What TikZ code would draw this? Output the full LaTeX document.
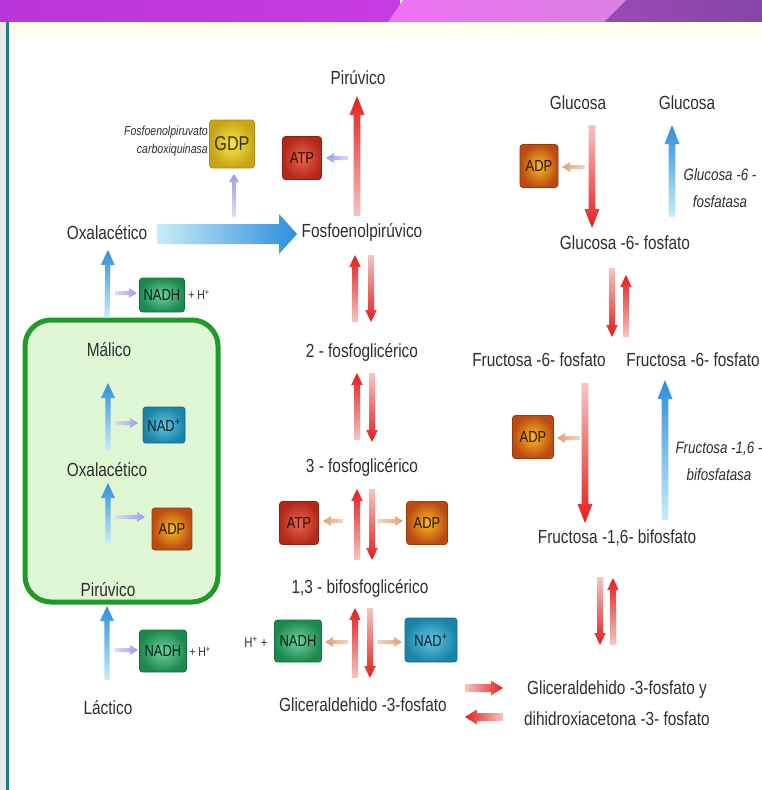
\documentclass[tikz,border=0pt]{standalone}
\usepackage{fontspec}
\setmainfont{Liberation Sans}[FakeStretch=0.81]
\usetikzlibrary{calc}

\newcommand\fsz[2]{\fontsize{#1}{#2}\selectfont}

% text and frame colours
\definecolor{txt}{HTML}{2E2E2E}
\definecolor{banA}{HTML}{B836D8}
\definecolor{banB}{HTML}{C83CE2}
\definecolor{banC}{HTML}{EE72F2}
\definecolor{banD}{HTML}{DA82E2}
\definecolor{banE}{HTML}{9A4AB4}
\definecolor{banF}{HTML}{8646A6}
\definecolor{rulecol}{HTML}{1C7E8A}
\definecolor{stripgray}{HTML}{E6ECEC}
\definecolor{mitoD}{HTML}{1F9A29}
\definecolor{mitoL}{HTML}{DEF6D4}
% metabolite boxes
\definecolor{atpL}{HTML}{EA6650}\definecolor{atpD}{HTML}{B42818}
\definecolor{adpL}{HTML}{F4BC22}\definecolor{adpD}{HTML}{BC4A12}
\definecolor{gdpL}{HTML}{F6E64C}\definecolor{gdpD}{HTML}{C8A416}
\definecolor{nadhL}{HTML}{72D0A0}\definecolor{nadhD}{HTML}{1C8A4E}
\definecolor{nadL}{HTML}{64C6E0}\definecolor{nadD}{HTML}{1A84A8}
% arrow colours (tail / head)
\definecolor{redL}{HTML}{F6C4C2}\definecolor{redD}{HTML}{E41E1E}
\definecolor{bluL}{HTML}{C8ECF8}\definecolor{bluD}{HTML}{2E8EDC}
\definecolor{lavL}{HTML}{DCDCF6}\definecolor{lavD}{HTML}{9C9CE6}
\definecolor{orgL}{HTML}{F2D8C4}\definecolor{orgD}{HTML}{E0A072}

% geometry of the shaded block arrows
\pgfkeys{/fa/.cd,
  shaft/.store in=\fashaft, head/.store in=\fahead,
  len/.store in=\falen, dir/.store in=\fadir,
  up/.style={dir=0}, down/.style={dir=180},
  left/.style={dir=90}, right/.style={dir=-90},
  long/.style={shaft=3.3pt, head=7.5pt, len=19pt},
  pair/.style={shaft=3pt, head=5.8pt, len=12pt},
  flat/.style={shaft=4pt, head=7.5pt, len=12pt},
  blue/.style={shaft=2.6pt, head=7pt, len=15pt},
  side/.style={shaft=2pt, head=5pt, len=8pt},
  wide/.style={shaft=10pt, head=20pt, len=18pt}}

% \farrow{size,direction}{(from)}{(to)}{tail colour}{head colour}
\newcommand\farrow[5]{%
  \pgfkeys{/fa/.cd,#1}%
  \path #2 coordinate (fa-s) #3 coordinate (fa-e);
  \path ($(fa-e)!\falen!(fa-s)$) coordinate (fa-h);
  \shade[bottom color=#4, top color=#5, shading angle=\fadir]
    ($(fa-s)!\fashaft!90:(fa-e)$) -- ($(fa-h)!\fashaft!90:(fa-e)$)
    -- ($(fa-h)!\fahead!90:(fa-e)$) -- (fa-e)
    -- ($(fa-h)!\fahead!-90:(fa-e)$) -- ($(fa-h)!\fashaft!-90:(fa-e)$)
    -- ($(fa-s)!\fashaft!-90:(fa-e)$) -- cycle;
}

\begin{document}
\begin{tikzpicture}[x=1pt,y=-1pt,
  lbl/.style={font=\fsz{19}{22}, text=txt, inner sep=1pt},
  enz/.style={font=\itshape\fsz{16.5}{27}, text=txt, align=center, inner sep=0pt},
  enzs/.style={font=\itshape\fsz{13}{18}, text=txt, align=right, inner sep=0pt},
  small/.style={font=\fsz{13}{13}, text=txt, inner sep=0pt},
  chem/.style={rounded corners=3pt, line width=0.8pt, inner sep=0pt,
    minimum width=39pt, minimum height=43pt, font=\fsz{16}{16}},
  atpbox/.style={chem, draw=atpD!80!black, inner color=atpL, outer color=atpD, text=atpD!25!black},
  adpbox/.style={chem, draw=adpD!80!black, inner color=adpL, outer color=adpD, text=adpD!25!black},
  gdpbox/.style={chem, draw=gdpD!85!black, inner color=gdpL, outer color=gdpD, text=gdpD!30!black},
  nadhbox/.style={chem, draw=nadhD!80!black, inner color=nadhL, outer color=nadhD, text=nadhD!25!black},
  nadbox/.style={chem, draw=nadD!80!black, inner color=nadL, outer color=nadD, text=nadD!25!black},
  mito/.style={draw=mitoD, fill=mitoL, line width=5pt, rounded corners=26pt}]

\useasboundingbox (0,0) rectangle (762,790);
\clip (0,0) rectangle (762,790);
\fill[white] (0,0) rectangle (762,790);

% title band
\shade[left color=banA, right color=banB] (0,0) rectangle (400,22);
\shade[left color=banC, right color=banD] (388,22) -- (403,0) -- (626,0) -- (604,22) -- cycle;
\shade[left color=banE, right color=banF] (604,22) -- (626,0) -- (762,0) -- (762,22) -- cycle;
\shade[top color=yellow!10!white, bottom color=white] (0,22) rectangle (762,38);

% left margin rule
\fill[stripgray] (0,22) rectangle (6,790);
\fill[rulecol] (6,22) rectangle (8.5,790);

% mitochondrial compartment
\node[mito, minimum width=193pt, minimum height=282pt] (mito) at (121.5,461) {};

% metabolites, central column
\node[lbl] (pir) at (358,78) {Pirúvico};
\node[lbl] (pep) at (362,232) {Fosfoenolpirúvico};
\node[lbl] (pg2) at (362,352) {2 - fosfoglicérico};
\node[lbl] (pg3) at (362,467) {3 - fosfoglicérico};
\node[lbl] (bpg) at (360,588) {1,3 - bifosfoglicérico};
\node[lbl] (gap) at (363,705) {Gliceraldehido -3-fosfato};
\node[lbl, align=center, font=\fsz{19}{31}] (gdh) at (617,703)
  {Gliceraldehido -3-fosfato y\\dihidroxiacetona -3- fosfato};

% metabolites, right column
\node[lbl] (glcL) at (578,103) {Glucosa};
\node[lbl] (glcR) at (687,103) {Glucosa};
\node[lbl] (g6p) at (625,243) {Glucosa -6- fosfato};
\node[lbl] (f6pL) at (539,360) {Fructosa -6- fosfato};
\node[lbl, anchor=east] (f6pR) at (761,360) {Fructosa -6- fosfato};
\node[lbl] (f16) at (617,538) {Fructosa -1,6- bifosfato};
\node[enz] (g6pase) at (720,188) {Glucosa -6 -\\fosfatasa};
\node[enz] (f16pase) at (719,461) {Fructosa -1,6 -\\bifosfatasa};

% metabolites, left column
\node[lbl] (oxa1) at (107,233) {Oxalacético};
\node[lbl] (mal) at (109,350) {Málico};
\node[lbl] (oxa2) at (107,470) {Oxalacético};
\node[lbl] (pir2) at (108,590) {Pirúvico};
\node[lbl] (lac) at (108,708) {Láctico};
\node[enzs, anchor=east] (pepck) at (208,141) {Fosfoenolpiruvato\\carboxiquinasa};

% cofactor boxes
\node[gdpbox, minimum width=45pt, minimum height=48pt, font=\fsz{20}{20}] (gdp) at (232,144) {GDP};
\node[atpbox] (atp1) at (302,158) {ATP};
\node[atpbox] (atp2) at (299,523) {ATP};
\node[adpbox, minimum width=41pt] (adp2) at (427,523) {ADP};
\node[nadhbox, minimum width=47pt, minimum height=42pt] (nadh2) at (298,641) {NADH};
\node[nadbox, minimum width=52pt, minimum height=44pt] (nad2) at (431,640) {NAD\textsuperscript{+}};
\node[small, font=\fsz{14}{14}] (hp2) at (256,642) {H\textsuperscript{+} +};
\node[adpbox, minimum width=38pt] (adp3) at (539,166) {ADP};
\node[adpbox, minimum width=41pt] (adp4) at (533,437) {ADP};
\node[nadhbox, minimum width=45pt, minimum height=34pt] (nadh1) at (162,295) {NADH};
\node[small] (hp1) at (199,295) {+ H\textsuperscript{+}};
\node[nadbox, minimum width=42pt, minimum height=36pt] (nad1) at (164,425) {NAD\textsuperscript{+}};
\node[adpbox, minimum width=40pt, minimum height=42pt] (adp1) at (172,529) {ADP};
\node[nadhbox, minimum width=47pt, minimum height=42pt] (nadh3) at (163,651) {NADH};
\node[small] (hp3) at (200,652) {+ H\textsuperscript{+}};

% glycolytic / gluconeogenic steps, central column
\farrow{long,up}{([shift={(-5,-16)}]pep.center)}{([shift={(-1,18)}]pir.center)}{redL}{redD}
\farrow{pair,up}{([shift={(-7,-30)}]pg2.center)}{([shift={(-7,23)}]pep.center)}{redL}{redD}
\farrow{pair,down}{([shift={(9,23)}]pep.center)}{([shift={(9,-30)}]pg2.center)}{redL}{redD}
\farrow{pair,up}{([shift={(-5,-27)}]pg3.center)}{([shift={(-5,21)}]pg2.center)}{redL}{redD}
\farrow{pair,down}{([shift={(10,21)}]pg2.center)}{([shift={(10,-25)}]pg3.center)}{redL}{redD}
\farrow{pair,up}{([shift={(-3,-28)}]bpg.center)}{([shift={(-5,22)}]pg3.center)}{redL}{redD}
\farrow{pair,down}{([shift={(10,22)}]pg3.center)}{([shift={(12,-28)}]bpg.center)}{redL}{redD}
\farrow{pair,up}{([shift={(-8,-27)}]gap.center)}{([shift={(-5,20)}]bpg.center)}{redL}{redD}
\farrow{pair,down}{([shift={(10,20)}]bpg.center)}{([shift={(7,-27)}]gap.center)}{redL}{redD}
\farrow{flat,right}{([shift={(102,-17)}]gap.center)}{([shift={(-114,-15)}]gdh.center)}{redL}{redD}
\farrow{flat,left}{([shift={(-114,14)}]gdh.center)}{([shift={(102,12)}]gap.center)}{redL}{redD}

% cofactor release, central column
\farrow{side,left}{([shift={(44,-2)}]atp2.center)}{([shift={(24,-2)}]atp2.center)}{orgL}{orgD}
\farrow{side,right}{([shift={(-50,-2)}]adp2.center)}{([shift={(-24,-2)}]adp2.center)}{orgL}{orgD}
\farrow{side,left}{([shift={(50,1)}]nadh2.center)}{([shift={(27,1)}]nadh2.center)}{orgL}{orgD}
\farrow{side,right}{([shift={(-54,2)}]nad2.center)}{([shift={(-29,2)}]nad2.center)}{orgL}{orgD}
\farrow{side,left}{([shift={(46,0)}]atp1.center)}{([shift={(24,0)}]atp1.center)}{lavL}{lavD}
\farrow{side,up}{([shift={(2,73)}]gdp.center)}{([shift={(2,30)}]gdp.center)}{lavL}{lavD}

% right column
\farrow{long,down}{([shift={(14,22)}]glcL.center)}{([shift={(-33,-15)}]g6p.center)}{redL}{redD}
\farrow{side,left}{([shift={(46,1)}]adp3.center)}{([shift={(23,1)}]adp3.center)}{orgL}{orgD}
\farrow{long,up}{([shift={(47,-26)}]g6p.center)}{([shift={(-15,22)}]glcR.center)}{bluL}{bluD}
\farrow{pair,down}{([shift={(-13,25)}]g6p.center)}{([shift={(73,-23)}]f6pL.center)}{redL}{redD}
\farrow{pair,up}{([shift={(87,-23)}]f6pL.center)}{([shift={(1,32)}]g6p.center)}{redL}{redD}
\farrow{long,down}{([shift={(46,23)}]f6pL.center)}{([shift={(-32,-15)}]f16.center)}{redL}{redD}
\farrow{side,left}{([shift={(47,1)}]adp4.center)}{([shift={(24,1)}]adp4.center)}{orgL}{orgD}
\farrow{long,up}{([shift={(48,-18)}]f16.center)}{([shift={(126,20)}]f6pL.center)}{bluL}{bluD}
\farrow{pair,down}{([shift={(-17,39)}]f16.center)}{([shift={(-17,-58)}]gdh.center)}{redL}{redD}
\farrow{pair,up}{([shift={(-4,-58)}]gdh.center)}{([shift={(-4,40)}]f16.center)}{redL}{redD}

% left column
\farrow{wide,right}{([shift={(50,1)}]oxa1.center)}{([shift={(-65,2)}]pep.center)}{bluL}{bluD}
\farrow{blue,up}{(mito.north -| oxa1.center)}{([shift={(1,17)}]oxa1.center)}{bluL}{bluD}
\farrow{side,right}{([shift={(-47,-2)}]nadh1.center)}{([shift={(-25,-2)}]nadh1.center)}{lavL}{lavD}
\farrow{blue,up}{([shift={(1,-20)}]oxa2.center)}{([shift={(-1,33)}]mal.center)}{bluL}{bluD}
\farrow{side,right}{([shift={(-49,-2)}]nad1.center)}{([shift={(-26,-2)}]nad1.center)}{lavL}{lavD}
\farrow{blue,up}{([shift={(0,-47)}]pir2.center)}{([shift={(1,13)}]oxa2.center)}{bluL}{bluD}
\farrow{side,right}{([shift={(-57,-12)}]adp1.center)}{([shift={(-27,-12)}]adp1.center)}{lavL}{lavD}
\farrow{blue,up}{([shift={(-1,-28)}]lac.center)}{([shift={(-1,16)}]pir2.center)}{bluL}{bluD}
\farrow{side,right}{([shift={(-48,-1)}]nadh3.center)}{([shift={(-25,-1)}]nadh3.center)}{lavL}{lavD}

\end{tikzpicture}
\end{document}
